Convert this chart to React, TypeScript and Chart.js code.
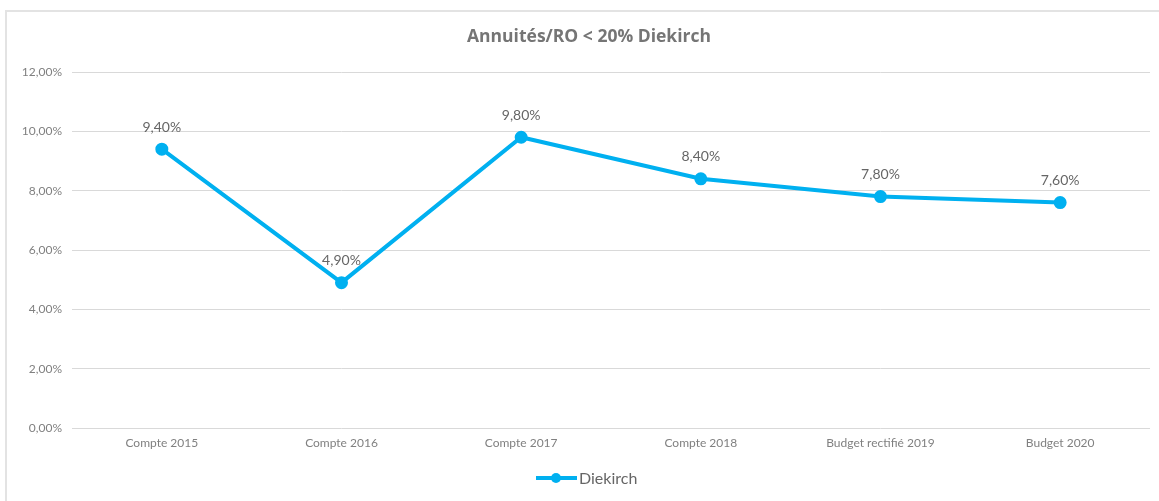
import React, { useEffect, useRef } from "react";
import { Chart, registerables } from "chart.js";

Chart.register(...registerables);

const categories = [
  "Compte 2015",
  "Compte 2016",
  "Compte 2017",
  "Compte 2018",
  "Budget rectifié 2019",
  "Budget 2020",
];
const diekirch = [9.4, 4.9, 9.8, 8.4, 7.8, 7.6];
const seriesName = "Diekirch";
const chartTitle = "Annuités/RO < 20% Diekirch";
const yMin = 0;
const yMax = 12;
const yStep = 2;

const FONT = "Lato, 'Open Sans', sans-serif";
const TITLE_FONT = "'Open Sans', Lato, sans-serif";
const LINE_COLOR = "#00B0F0";

const fmt = (v: number) => v.toFixed(2).replace(".", ",") + "%";

const decorPlugin = {
  id: "decor",
  beforeDraw(chart: any) {
    const ctx = chart.ctx;
    ctx.save();
    ctx.fillStyle = "#ffffff";
    ctx.fillRect(0, 0, chart.width, chart.height);
    ctx.strokeStyle = "#e3e3e3";
    ctx.lineWidth = 2;
    ctx.beginPath();
    ctx.moveTo(6, chart.height);
    ctx.lineTo(6, 11);
    ctx.lineTo(chart.width, 11);
    ctx.stroke();
    ctx.restore();
  },
  afterDraw(chart: any) {
    const ctx = chart.ctx;
    ctx.save();
    // title
    ctx.fillStyle = "#757575";
    ctx.font = `bold 17.5px ${TITLE_FONT}`;
    ctx.textAlign = "center";
    ctx.textBaseline = "middle";
    ctx.fillText(chartTitle, 589, 37);

    // data labels
    const meta = chart.getDatasetMeta(0);
    ctx.font = `14px ${FONT}`;
    ctx.fillStyle = "#666666";
    ctx.textBaseline = "middle";
    meta.data.forEach((pt: any, i: number) => {
      ctx.fillText(fmt(chart.data.datasets[0].data[i]), pt.x, pt.y - 22);
    });

    // legend
    const ly = 478;
    ctx.strokeStyle = LINE_COLOR;
    ctx.lineWidth = 4;
    ctx.beginPath();
    ctx.moveTo(536, ly);
    ctx.lineTo(577, ly);
    ctx.stroke();
    ctx.fillStyle = LINE_COLOR;
    ctx.beginPath();
    ctx.arc(556, ly, 5, 0, Math.PI * 2);
    ctx.fill();
    ctx.fillStyle = "#666666";
    ctx.font = `16px ${FONT}`;
    ctx.textAlign = "left";
    ctx.fillText(seriesName, 579, ly + 1);
    ctx.restore();
  },
};

export default function App() {
  const ref = useRef<HTMLCanvasElement>(null);
  useEffect(() => {
    document.body.style.margin = "0";
    const chart = new Chart(ref.current!, {
      type: "line",
      data: {
        labels: categories,
        datasets: [
          {
            label: seriesName,
            data: diekirch,
            borderColor: LINE_COLOR,
            backgroundColor: LINE_COLOR,
            borderWidth: 4,
            pointRadius: 4.5,
            pointBackgroundColor: LINE_COLOR,
            pointBorderColor: LINE_COLOR,
            tension: 0,
          },
        ],
      },
      options: {
        animation: false,
        responsive: false,
        layout: { padding: { top: 72, right: 9, bottom: 0, left: 0 } },
        plugins: {
          legend: { display: false },
          title: { display: false },
          tooltip: { enabled: false },
        },
        scales: {
          x: {
            offset: true,
            grid: { display: false, drawTicks: false },
            border: { display: false },
            ticks: {
              color: "#808080",
              font: { family: FONT, size: 12 },
              padding: 8,
              maxRotation: 0,
            },
            afterFit: (s: any) => {
              s.height = 73;
            },
          },
          y: {
            min: yMin,
            max: yMax,
            grid: { color: "#d9d9d9", drawTicks: false, lineWidth: 1 },
            border: { display: false },
            ticks: {
              stepSize: yStep,
              color: "#808080",
              font: { family: FONT, size: 12 },
              padding: 10,
              callback: (v: any) => fmt(Number(v)),
            },
            afterFit: (s: any) => {
              s.width = 72;
            },
          },
        },
      },
      plugins: [decorPlugin],
    });
    return () => chart.destroy();
  }, []);
  return (
    <div style={{ width: 1159, height: 501 }}>
      <canvas ref={ref} width={1159} height={501} />
    </div>
  );
}
